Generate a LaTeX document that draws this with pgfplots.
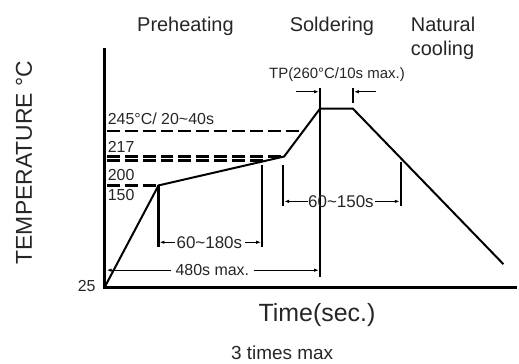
\documentclass[border=0pt]{standalone}
\usepackage{fontspec}
\setmainfont{Liberation Sans}
\usepackage{pgfplots}
\pgfplotsset{compat=1.18}
\usetikzlibrary{arrows.meta}
\newcommand{\fs}[1]{\fontsize{#1}{#1}\selectfont}
\begin{document}
\begin{tikzpicture}[
  dim/.style={line width=1.3pt, -{Latex[length=5pt,width=3.5pt]}},
  txt/.style={text=black!85, inner sep=0pt},
]
\begin{axis}[
  width=519pt, height=365pt, scale only axis,
  xmin=0, xmax=519, ymin=0, ymax=365, y dir=reverse,
  axis lines=none, clip=false, ticks=none,
  every axis plot/.append style={black, mark=none},
]
\path (axis cs:0,0) rectangle (axis cs:519,365);
% axes
\addplot[line width=3.2pt, line join=miter] coordinates {(105,48) (105,288) (519,288)};
% profile
\addplot[line width=2pt, line join=miter] coordinates {(105,288) (159,186) (285,157) (321,109) (354,109) (505,265)};
% dashed reference lines
\addplot[line width=2.2pt, dash pattern=on 13pt off 5pt] coordinates {(107,131) (305,131)};
\addplot[line width=2.2pt, dash pattern=on 13pt off 5pt] coordinates {(107,157) (285,157)};
\addplot[line width=2.2pt, dash pattern=on 13pt off 5pt] coordinates {(107,161) (268,161)};
\addplot[line width=2.2pt, dash pattern=on 13pt off 5pt] coordinates {(107,186) (159,186)};
% vertical markers
\addplot[line width=2.4pt] coordinates {(159,186) (159,248)};
\addplot[line width=2.4pt] coordinates {(263,166) (263,248)};
\addplot[line width=2.4pt] coordinates {(284,166) (284,207)};
\addplot[line width=2.4pt] coordinates {(402,162) (402,207)};
\addplot[line width=2.4pt] coordinates {(321,88) (321,278)};
\addplot[line width=2pt] coordinates {(354,88) (354,103)};
% dimension arrows
\addplot[dim] coordinates {(297,92) (320,92)};
\addplot[dim] coordinates {(377,92) (355,92)};
\addplot[dim] coordinates {(176,243) (160,243)};
\addplot[dim] coordinates {(246,243) (262,243)};
\addplot[dim] coordinates {(172,271) (107,271)};
\addplot[dim] coordinates {(255,271) (320,271)};
\addplot[dim] coordinates {(309,202) (285,202)};
\addplot[dim] coordinates {(376,202) (401,202)};
% labels
\node[txt] at (axis cs:186,26) {\fs{20}Preheating};
\node[txt] at (axis cs:333,26) {\fs{20}Soldering};
\node[txt, anchor=west, align=left, font=\fontsize{20}{24}\selectfont] at (axis cs:412,38) {Natural\\cooling};
\node[txt] at (axis cs:338,75) {\fs{15}TP(260°C/10s max.)};
\node[txt, anchor=west] at (axis cs:108,119) {\fs{16}245°C/ 20\char`~40s};
\node[txt, anchor=west] at (axis cs:108,147) {\fs{16}217};
\node[txt, anchor=west] at (axis cs:108,176) {\fs{16}200};
\node[txt, anchor=west] at (axis cs:108,196) {\fs{16}150};
\node[txt, anchor=east] at (axis cs:96,287) {\fs{16}25};
\node[txt, fill=white, inner sep=1pt] at (axis cs:210,243) {\fs{17}60\char`~180s};
\node[txt, fill=white, inner sep=1pt] at (axis cs:213,271) {\fs{16}480s max.};
\node[txt] at (axis cs:342,202) {\fs{17}60\char`~150s};
\node[txt] at (axis cs:318,316) {\fs{25}Time(sec.)};
\node[txt] at (axis cs:283,354) {\fs{19}3 times max};
\node[txt, rotate=90] at (axis cs:24,163) {\fs{23}TEMPERATURE °C};
\end{axis}
\end{tikzpicture}
\end{document}
